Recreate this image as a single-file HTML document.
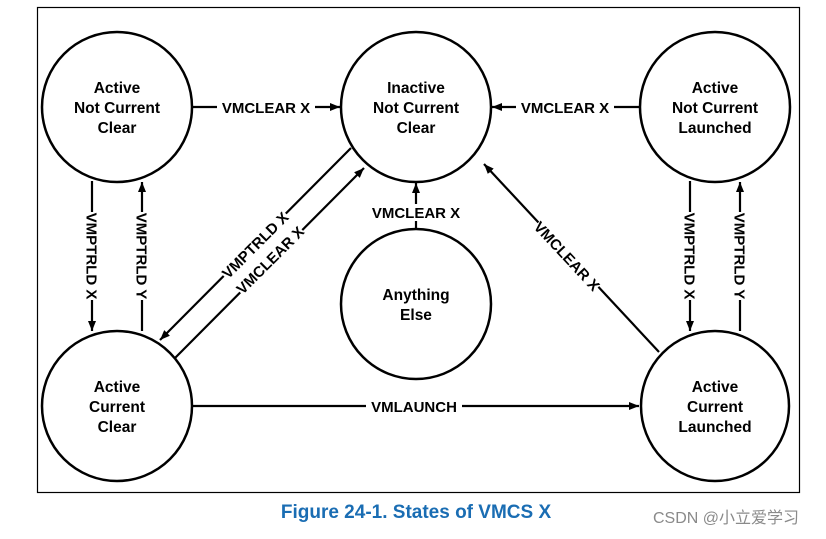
<!DOCTYPE html>
<html><head><style>
body{margin:0;background:#fff;width:826px;height:534px;overflow:hidden;font-family:"Liberation Sans",sans-serif}
</style></head><body>
<svg width="826" height="534" viewBox="0 0 826 534" xmlns="http://www.w3.org/2000/svg">
<defs><marker id="a" markerWidth="10" markerHeight="8" refX="10" refY="4" orient="auto" markerUnits="userSpaceOnUse"><path d="M0,0 L10,4 L0,8 Z" fill="#000"/></marker></defs>
<rect x="37.5" y="7.5" width="762" height="485" fill="none" stroke="#000" stroke-width="1.2"/>
<g fill="none" stroke="#000" stroke-width="2.5">
<ellipse cx="117" cy="107" rx="75" ry="75"/>
<ellipse cx="416" cy="107" rx="75" ry="75"/>
<ellipse cx="715" cy="107" rx="75" ry="75"/>
<ellipse cx="117" cy="406" rx="75" ry="75"/>
<ellipse cx="715" cy="406" rx="74" ry="75"/>
<ellipse cx="416" cy="304" rx="75" ry="75"/>
</g>
<g stroke="#000" stroke-width="2.2" fill="none">
<line x1="192" y1="107" x2="340" y2="107" marker-end="url(#a)"/>
<line x1="640" y1="107" x2="492" y2="107" marker-end="url(#a)"/>
<line x1="92" y1="181" x2="92" y2="331" marker-end="url(#a)"/>
<line x1="142" y1="331" x2="142" y2="182" marker-end="url(#a)"/>
<line x1="690" y1="181" x2="690" y2="331" marker-end="url(#a)"/>
<line x1="740" y1="331" x2="740" y2="182" marker-end="url(#a)"/>
<line x1="416" y1="229" x2="416" y2="183" marker-end="url(#a)"/>
<line x1="351" y1="148" x2="160" y2="340" marker-end="url(#a)"/>
<line x1="175" y1="358" x2="364" y2="168" marker-end="url(#a)"/>
<line x1="659" y1="352" x2="484" y2="164" marker-end="url(#a)"/>
<line x1="193" y1="406" x2="639" y2="406" marker-end="url(#a)"/>
</g>
<g font-weight="bold" font-size="15.5" text-anchor="middle" fill="#000">
<text x="117" y="93">Active</text><text x="117" y="113">Not Current</text><text x="117" y="133">Clear</text>
<text x="416" y="93">Inactive</text><text x="416" y="113">Not Current</text><text x="416" y="133">Clear</text>
<text x="715" y="93">Active</text><text x="715" y="113">Not Current</text><text x="715" y="133">Launched</text>
<text x="117" y="392">Active</text><text x="117" y="412">Current</text><text x="117" y="432">Clear</text>
<text x="715" y="392">Active</text><text x="715" y="412">Current</text><text x="715" y="432">Launched</text>
<text x="416" y="300">Anything</text><text x="416" y="320">Else</text>
</g>
<g font-weight="bold" font-size="15" text-anchor="middle" fill="#000">
<rect x="217" y="98" width="98" height="18" fill="#fff"/>
<text x="266" y="113">VMCLEAR X</text>
<rect x="516" y="98" width="98" height="18" fill="#fff"/>
<text x="565" y="113">VMCLEAR X</text>
<rect x="367" y="204" width="98" height="17" fill="#fff"/>
<text x="416" y="218">VMCLEAR X</text>
<rect x="366" y="398" width="96" height="17" fill="#fff"/>
<text x="414" y="412">VMLAUNCH</text>
<g transform="translate(92,256) rotate(90)"><rect x="-44" y="-9" width="88" height="18" fill="#fff"/><text x="0" y="5.5">VMPTRLD X</text></g>
<g transform="translate(142,256) rotate(90)"><rect x="-44" y="-9" width="88" height="18" fill="#fff"/><text x="0" y="5.5">VMPTRLD Y</text></g>
<g transform="translate(690,256) rotate(90)"><rect x="-44" y="-9" width="88" height="18" fill="#fff"/><text x="0" y="5.5">VMPTRLD X</text></g>
<g transform="translate(740,256) rotate(90)"><rect x="-44" y="-9" width="88" height="18" fill="#fff"/><text x="0" y="5.5">VMPTRLD Y</text></g>
<g transform="translate(255,245) rotate(-45)"><rect x="-44" y="-9" width="88" height="18" fill="#fff"/><text x="0" y="5.5">VMPTRLD X</text></g>
<g transform="translate(270,260) rotate(-45)"><rect x="-44" y="-9" width="88" height="18" fill="#fff"/><text x="0" y="5.5">VMCLEAR X</text></g>
<g transform="translate(567,256) rotate(47)"><rect x="-44" y="-9" width="88" height="18" fill="#fff"/><text x="0" y="5.5">VMCLEAR X</text></g>
</g>
<text x="416" y="518" text-anchor="middle" font-size="19" font-weight="bold" fill="#1a6db3">Figure 24-1.  States of VMCS X</text>
<text x="726" y="523" text-anchor="middle" font-size="16" fill="#8a8a8a" font-family="Liberation Sans, Noto Sans CJK SC, sans-serif">CSDN @小立爱学习</text>
</svg>
</body></html>
